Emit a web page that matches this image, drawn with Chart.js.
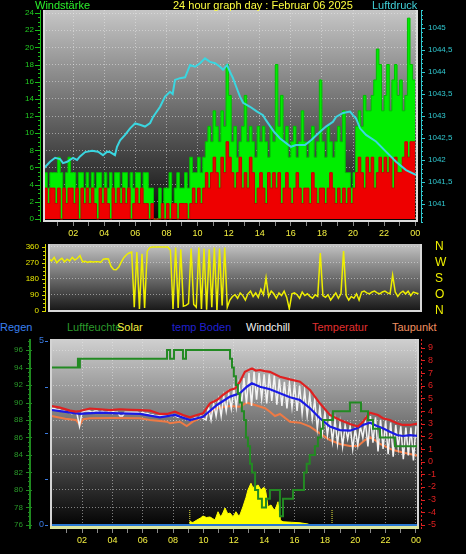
<!DOCTYPE html>
<html>
<head>
<meta charset="utf-8">
<script src="https://cdn.jsdelivr.net/npm/chart.js@4.4.1/dist/chart.umd.min.js"></script>
<style>
  html, body { margin:0; padding:0; background:#000; }
  body { position:relative; width:466px; height:554px; overflow:hidden; font-family:"Liberation Sans", Arial, sans-serif; }
  canvas { position:absolute; left:0; }
  .t { position:absolute; font-size:11px; line-height:12px; white-space:nowrap; }
</style>
</head>
<body>
<canvas id="c1" width="466" height="240" style="top:0px;width:466px;height:240px"></canvas>
<canvas id="c2" width="466" height="80" style="top:240px;width:466px;height:80px"></canvas>
<canvas id="c3" width="466" height="220" style="top:334px;width:466px;height:220px"></canvas>
<div class="t" style="left:35px;top:-1px;color:#2cf02c">Windstärke</div>
<div class="t" style="left:173px;top:-1px;color:#ffff40">24 hour graph day : Februar 06 2025</div>
<div class="t" style="left:372px;top:-1px;color:#40d0d8">Luftdruck</div>
<div class="t" style="left:0px;top:321px;color:#3a80f0">Regen</div>
<div class="t" style="left:67px;top:321px;color:#2c9b2c">Luftfeuchte</div>
<div class="t" style="left:117px;top:321px;color:#f4f040">Solar</div>
<div class="t" style="left:172px;top:321px;color:#2020d0">temp Boden</div>
<div class="t" style="left:246px;top:321px;color:#f2f2f2">Windchill</div>
<div class="t" style="left:312px;top:321px;color:#e03030">Temperatur</div>
<div class="t" style="left:392px;top:321px;color:#f09060">Taupunkt</div>
<script>
// ---------- data ----------
const STEP = 1/6; // 10-minute samples, in hours
const hourTicks = [1,2,3,4,5,6,7,8,9,10,11,12,13,14,15,16,17,18,19,20,21,22,23,24];

const windTicks = [0,2,4,6,8,10,12,14,16,18,20,22,24];
const pressTicks = [1041,1041.5,1042,1042.5,1043,1043.5,1044,1044.5,1045];
const pressLabels = ['1041','1041,5','1042','1042,5','1043','1043,5','1044','1044,5','1045'];
const dirTicks = [0,90,180,270,360];
const dirLetters = ['N','O','S','W','N'];
const humTicks = [76,78,80,82,84,86,88,90,92,94,96];
const rainTicks = [0,1.25,2.5,3.75,5];
const rainLabels = ['0','','','','5'];
const tempTicks = [-5,-4,-3,-2,-1,0,1,2,3,4,5,6,7,8,9];

// gusts (green), 10-minute samples
const windGust = [
  5.4,5.4,3.6,5.4,5.4,5.4,  7.2,5.4,3.6,5.4,7.2,5.4,
  5.4,3.6,5.4,5.4,3.6,5.4,  3.6,5.4,3.6,5.4,5.4,3.6,
  5.4,3.6,5.4,3.6,5.4,5.4,  3.6,5.4,5.4,3.6,5.4,3.6,
  5.4,5.4,3.6,5.4,5.4,3.6,  3.6,0,0,3.6,1.8,3.6,
  3.6,5.4,1.8,3.6,5.4,3.6,  3.6,5.4,3.6,7.2,5.4,5.4,
  7.2,5.4,7.2,9.0,10.8,9.0, 12.6,10.8,9.0,12.6,10.8,18.0,
  14.4,9.0,10.8,7.2,9.0,10.8, 14.4,9.0,10.8,9.0,7.2,10.8,
  9.0,10.8,9.0,7.2,10.8,9.0,  18.0,10.8,14.4,9.0,10.8,7.2,
  9.0,10.8,7.2,9.0,12.6,9.0,  7.2,9.0,10.8,7.2,9.0,16.2,
  9.0,7.2,10.8,9.0,7.2,9.0,   10.8,9.0,12.6,5.4,5.4,3.6,
  5.4,10.8,12.6,10.8,14.4,12.6, 12.6,14.4,16.2,19.8,18.0,12.6,
  14.4,18.0,12.6,16.2,18.0,14.4, 16.2,12.6,14.4,23.4,18.0,16.2
];
// mean wind (red), 10-minute samples
const windAvg = [
  3.6,3.6,1.8,3.6,3.6,1.8,  3.6,0,3.6,1.8,3.6,3.6,
  1.8,3.6,0,3.6,1.8,3.6,    1.8,3.6,1.8,0,3.6,1.8,
  3.6,1.8,0,3.6,1.8,3.6,    1.8,3.6,1.8,3.6,0,1.8,
  3.6,1.8,3.6,1.8,1.8,0,    1.8,0,0,0,1.8,0,
  1.8,0,1.8,1.8,0,1.8,      1.8,1.8,0,1.8,3.6,1.8,
  3.6,1.8,3.6,5.4,3.6,5.4,  7.2,5.4,3.6,7.2,5.4,9.0,
  7.2,5.4,3.6,5.4,7.2,3.6,  5.4,3.6,7.2,5.4,1.8,3.6,
  5.4,3.6,1.8,5.4,3.6,5.4,  3.6,5.4,1.8,3.6,5.4,3.6,
  1.8,3.6,5.4,3.6,1.8,3.6,  3.6,1.8,5.4,3.6,1.8,3.6,
  3.6,1.8,3.6,5.4,3.6,1.8,  3.6,1.8,3.6,1.8,3.6,1.8,
  3.6,5.4,7.2,5.4,3.6,7.2,  5.4,7.2,3.6,5.4,7.2,5.4,
  7.2,5.4,7.2,3.6,7.2,5.4,  5.4,7.2,9.0,7.2,9.0,9.0
];
// pressure [hour, hPa]
const pressure = [
  [0.06,1041.79],[0.51,1041.96],[0.84,1042.05],[1.16,1042.02],[1.35,1041.93],[1.61,1041.96],
  [1.99,1042.05],[2.25,1042.0],[2.44,1042.08],[2.77,1042.18],[3.22,1042.21],[3.6,1042.19],
  [3.92,1042.11],[4.18,1042.19],[4.37,1042.18],[4.69,1042.11],[4.82,1042.3],[5.02,1042.45],
  [5.34,1042.57],[5.66,1042.72],[5.98,1042.83],[6.3,1042.8],[6.62,1042.76],[6.95,1042.84],
  [7.14,1042.98],[7.59,1043.21],[7.91,1043.44],[8.23,1043.55],[8.4,1043.5],[8.55,1043.82],
  [8.87,1043.86],[9.2,1043.88],[9.52,1044.16],[9.84,1044.12],[10.16,1044.2],[10.48,1044.31],
  [10.8,1044.23],[11.13,1044.2],[11.45,1044.12],[11.64,1044.05],[11.9,1044.16],[12.09,1044.0],
  [12.28,1043.86],[12.48,1043.67],[12.73,1043.44],[12.93,1043.3],[13.38,1043.21],[13.83,1043.1],
  [14.21,1043.02],[14.41,1042.9],[14.9,1042.65],[15.31,1042.49],[16.01,1042.3],[16.33,1042.34],
  [16.91,1042.34],[17.3,1042.45],[17.88,1042.64],[18.26,1042.76],[18.71,1042.87],[18.91,1042.98],
  [19.36,1043.07],[19.81,1043.1],[20.0,1043.02],[20.19,1042.95],[20.45,1042.72],[20.84,1042.57],
  [21.48,1042.42],[22.12,1042.19],[22.77,1041.96],[23.41,1041.77],[24.05,1041.66]
];
// wind direction (degrees), 10-minute samples
const windDir = [
  290,280,300,270,285,295,  275,290,280,300,285,295,
  310,275,278,272,276,274,  275,276,272,290,292,291,
  250,232,230,245,275,300,  315,325,330,20,330,10,
  320,15,335,355,358,358,   358,358,358,358,358,340,
  10,355,15,345,25,30,      40,350,35,20,355,10,
  350,5,345,20,355,0,       350,30,355,20,60,80,
  90,70,100,85,60,95,       110,80,100,75,120,90,
  185,80,110,95,70,100,     85,110,75,10,95,100,
  90,70,105,85,95,80,       70,90,80,325,85,75,
  90,60,80,100,70,95,       336,85,60,80,70,95,
  60,105,110,100,95,105,    110,100,95,105,110,100,
  95,200,105,80,100,110,    95,110,85,105,100,95
];
// humidity [hour, %]
const humidity = [
  [0,94],[1.73,95],[1.8,94],[1.86,95],[7.6,96],[7.8,95],[8.06,96],[8.65,95],[8.85,96],
  [11.75,95],[11.88,94],[12.0,93],[12.14,92],[12.27,91],[12.4,90],[12.53,89],[12.67,88],
  [12.8,86],[12.93,85],[13.07,83],[13.2,82],[13.4,80],[13.6,79],[13.85,78],[14.12,79],
  [14.38,80],[15.04,77],[15.24,79],[15.9,80],[16.62,82],[16.8,83],[17.0,84],[17.34,85],
  [17.54,86],[17.74,87],[17.87,88],[18.53,89],[19.65,90],[20.38,89],[20.84,88],[21.17,87],
  [21.63,86],[22.62,85],[24.2,85]
];
// temperature [hour, °C]
const temperature = [
  [0,4.4],[0.55,4.27],[1.21,4.03],[1.6,3.95],[1.86,4.0],[2.52,4.2],[3.18,4.14],[3.84,4.08],
  [4.5,4.14],[5.2,4.1],[5.82,4.08],[6.48,4.03],[7.13,3.77],[7.6,3.77],[8.12,3.95],[8.65,3.69],
  [9.11,3.5],[9.57,3.69],[9.97,3.82],[10.43,4.61],[10.89,4.87],[11.29,5.27],[11.75,5.66],
  [12.1,5.8],[12.4,6.32],[12.73,7.1],[13.19,7.37],[13.45,7.2],[13.72,7.24],[14.05,7.15],
  [14.38,7.1],[15.04,6.71],[15.7,6.5],[16.36,6.32],[17.02,5.66],[17.67,4.61],[18.33,3.69],
  [18.99,3.29],[19.65,2.98],[20.18,2.77],[20.51,3.16],[20.97,3.87],[21.5,3.69],[21.82,3.43],
  [22.28,3.29],[22.75,3.03],[23.14,2.9],[23.6,2.9],[24.2,3.03]
];
// soil temperature [hour, °C]
const soilTemp = [
  [0,4.08],[0.55,4.0],[1.86,3.77],[3.18,3.87],[4.5,3.82],[5.82,3.77],[7.13,3.5],[8.12,3.69],
  [9.11,3.29],[9.97,3.55],[10.89,4.48],[11.75,5.14],[12.4,5.4],[12.86,5.92],[13.19,6.19],
  [13.72,5.92],[14.38,5.72],[15.04,5.4],[15.7,5.09],[16.36,4.87],[17.02,4.22],[17.67,3.43],
  [18.33,2.77],[18.99,2.5],[19.65,2.45],[20.11,2.64],[20.51,2.9],[20.97,3.08],[21.43,2.82],
  [21.82,2.64],[22.28,2.37],[22.75,2.11],[23.14,2.03],[23.6,2.1],[24.2,2.03]
];
// dew point [hour, °C]
const dewPoint = [
  [0,3.61],[0.9,3.4],[1.6,3.3],[1.86,2.9],[2.06,3.35],[2.52,3.43],[4.0,3.45],[5.82,3.43],
  [6.48,3.3],[7.6,3.16],[7.8,3.03],[8.45,3.16],[8.9,2.82],[9.3,3.16],[9.77,3.43],[10.3,3.8],
  [10.89,4.22],[11.75,4.4],[12.4,4.34],[12.86,4.66],[13.4,4.48],[14.06,4.22],[14.38,3.95],
  [14.71,3.61],[15.04,3.77],[15.7,3.16],[16.36,3.08],[17.02,2.77],[17.67,2.24],[18.33,1.71],
  [18.99,1.4],[19.65,1.24],[20.18,1.24],[20.64,1.71],[20.97,1.93],[21.3,1.71],[21.63,1.4],
  [22.5,0.92],[23.3,0.68],[24.2,0.45]
];
// wind chill (°C), 10-minute samples incl. 24:00
const windChill = [
  4.2,4.2,4.1,4.1,4.0,4.0,  3.9,3.9,3.8,3.9,3.8,2.8,
  3.9,4.0,4.0,4.0,3.9,4.0,  4.0,3.9,4.0,3.9,3.9,4.0,
  4.0,3.9,3.9,3.6,3.6,3.9,  3.9,3.9,3.9,3.9,3.9,3.8,
  3.9,3.8,3.8,3.7,3.7,3.6,  3.6,3.6,3.6,3.6,3.6,3.6,
  3.7,3.6,3.5,3.6,3.5,3.4,  3.3,3.3,3.4,3.5,3.4,3.6,
  3.4,3.3,4.3,3.3,4.6,3.6,  4.9,3.6,5.2,4.0,5.4,4.2,
  5.8,4.3,6.1,4.5,6.6,4.6,  7.0,4.4,7.1,4.9,7.0,5.0,
  6.9,4.6,6.9,4.8,6.8,4.5,  6.5,4.4,6.3,4.2,6.2,4.3,
  6.1,4.0,6.0,3.8,5.6,3.6,  5.3,3.4,4.9,2.6,4.3,2.3,
  3.9,2.1,3.5,1.6,3.3,1.4,  3.1,1.2,2.9,1.8,2.8,1.0,
  2.6,1.3,2.8,1.9,3.2,1.2,  3.6,1.5,3.5,0.8,3.3,1.0,
  3.2,0.6,3.1,0.4,2.9,1.1,  2.8,0.2,2.7,0.5,2.7,0.1,
  2.8
];
// solar radiation [hour, W/m²]
const solar = [
  [9.05,0],[9.11,14],[9.3,10],[9.57,20],[9.8,28],[9.97,36],[10.2,30],[10.43,32],[10.6,26],
  [10.76,20],[10.96,53],[11.1,35],[11.22,40],[11.42,68],[11.6,45],[11.75,48],[11.95,33],
  [12.14,53],[12.3,38],[12.4,40],[12.6,73],[12.8,110],[12.93,140],[13.13,167],[13.25,150],
  [13.4,153],[13.6,160],[13.79,140],[13.95,150],[14.05,147],[14.12,128],[14.25,73],[14.45,80],
  [14.6,65],[14.72,60],[14.91,93],[15.0,40],[15.04,20],[15.24,13],[15.8,11],[16.36,9],
  [16.89,4],[17.0,0]
];
const rain = [[0,0],[24.2,0]];
const sunMarks = [9.1, 18.47];   // sunrise / sunset
const sunMarkTop = 60;

// ---------- helpers ----------
function stepSeries(arr){ const p = arr.map((v,i)=>({x:i*STEP,y:v})); p.push({x:arr.length*STEP,y:arr[arr.length-1]}); return p; }
function sampleSeries(arr){ return arr.map((v,i)=>({x:i*STEP,y:v})); }
function pairs(a){ return a.map(p=>({x:p[0],y:p[1]})); }
function fixedWidth(w){ return s => { s.width = w; s.paddingTop = 0; s.paddingBottom = 0; }; }
function fixedHeight(h){ return s => { s.height = h; }; }
function setTicks(vals){ return s => { s.ticks = vals.map(v=>({value:v})); }; }
const GRID = 'rgba(235,235,235,0.5)';
const FONT = '"Liberation Sans", Arial, sans-serif';
Chart.defaults.font.family = FONT;

function xAxis(min,max,height){
  return { type:'linear', min:min, max:max,
    afterBuildTicks:setTicks(hourTicks), afterFit:fixedHeight(height),
    ticks:{ autoSkip:false, maxRotation:0, minRotation:0, padding:2, color:'#f4f040', font:{size:9},
      callback:v => (v%2===0 ? String(v%24).padStart(2,'0') : '') },
    grid:{ color:c => (c.tick && c.tick.value%2===0) ? GRID : 'rgba(0,0,0,0)', borderDash:[1,2],
      tickColor:'#8a8a8a', tickLength:4, tickBorderDash:[], drawTicks:true },
    border:{ display:false, dash:[1,2] } };
}

const decoPlugin = {
  id:'deco',
  beforeDraw(chart, args, o){
    if(!o || !o.bg) return;
    const a = chart.chartArea, ctx = chart.ctx;
    const g = ctx.createLinearGradient(0,a.top,0,a.bottom);
    o.bg.forEach(s=>g.addColorStop(s[0],s[1]));
    ctx.save(); ctx.fillStyle=g; ctx.fillRect(a.left,a.top,a.right-a.left,a.bottom-a.top); ctx.restore();
  },
  afterDraw(chart, args, o){
    if(!o || !o.frame) return;
    const a = chart.chartArea, ctx = chart.ctx;
    ctx.save();
    ctx.lineWidth = 2; ctx.strokeStyle = o.frame;
    ctx.beginPath(); ctx.moveTo(a.left+1, a.top); ctx.lineTo(a.left+1, a.bottom); ctx.stroke();
    if (o.frameRight){ ctx.beginPath(); ctx.moveTo(a.right-1,a.top); ctx.lineTo(a.right-1,a.bottom); ctx.stroke(); }
    const bw = o.bottomWidth || 2;
    ctx.lineWidth = bw; ctx.strokeStyle = o.bottomColor || o.frame;
    ctx.beginPath(); ctx.moveTo(a.left, a.bottom-bw/2); ctx.lineTo(a.right, a.bottom-bw/2); ctx.stroke();
    (o.axes||[]).forEach(ax=>{
      const s = chart.scales[ax.id]; if(!s) return;
      const dir = ax.side==='left' ? -1 : 1;
      ctx.strokeStyle = ax.color;
      if (ax.width){
        ctx.lineWidth = ax.width; ctx.setLineDash(ax.dash ? [ax.dash[0],ax.dash[1]] : []);
        const xx = ax.x + (ax.width%2 ? 0.5 : 0);
        ctx.beginPath(); ctx.moveTo(xx, a.top); ctx.lineTo(xx, a.bottom); ctx.stroke(); ctx.setLineDash([]);
      }
      ctx.lineWidth = 1;
      const tick = (v,len,inLen)=>{ const y=Math.round(s.getPixelForValue(v))+0.5; ctx.beginPath(); ctx.moveTo(ax.x - dir*(inLen||0), y); ctx.lineTo(ax.x + dir*len, y); ctx.stroke(); };
      if (ax.minor){ const n0=Math.ceil(s.min/ax.minor), n1=Math.floor(s.max/ax.minor); for(let n=n0;n<=n1;n++) tick(n*ax.minor, ax.minorLen||2, 0); }
      s.ticks.forEach(t=>tick(t.value, ax.majorLen||4, ax.inLen||0));
    });
    ctx.restore();
  }
};
Chart.register(decoPlugin);

const common = { responsive:false, animation:false, events:[], elements:{ point:{radius:0} } };

// ---------- chart 1: wind + pressure ----------
new Chart(document.getElementById('c1'), {
  type:'line',
  data:{ datasets:[
    { label:'Luftdruck', data:pairs(pressure), yAxisID:'yP', borderColor:'#3ad6e0', borderWidth:2, tension:0, order:0 },
    { label:'Wind', data:stepSeries(windAvg), yAxisID:'y', stepped:true, fill:'origin', backgroundColor:'#ee0000', borderColor:'#c80000', borderWidth:1, order:1 },
    { label:'Böen', data:stepSeries(windGust), yAxisID:'y', stepped:true, fill:'origin', backgroundColor:'#00ee00', borderColor:'#00c000', borderWidth:1, order:2 }
  ]},
  options:Object.assign({}, common, {
    layout:{ padding:{ top:10, left:0, right:0, bottom:0 } },
    plugins:{ legend:{display:false}, tooltip:{enabled:false},
      deco:{ bg:[[0,'#c6c6c6'],[1,'#060606']], frame:'#dcdcdc', frameRight:true,
        axes:[ {id:'y', x:40, side:'left', color:'#18c018', width:1, minor:0.5, majorLen:5, minorLen:2},
               {id:'yP', x:421, side:'right', color:'#30c8d0', width:1, minor:0.1, majorLen:4, minorLen:2} ] } },
    scales:{
      x: xAxis(0.06, 24.18, 18),
      y: { type:'linear', position:'left', min:-0.35, max:24.35, afterBuildTicks:setTicks(windTicks), afterFit:fixedWidth(43),
           ticks:{ autoSkip:false, color:'#22cc22', font:{size:8}, padding:9 }, grid:{ color:GRID, borderDash:[1,2], drawTicks:false }, border:{ display:false, dash:[1,2] } },
      yP: { type:'linear', position:'right', min:1040.591, max:1045.409, afterBuildTicks:setTicks(pressTicks), afterFit:fixedWidth(48),
           ticks:{ autoSkip:false, color:'#30c8d0', font:{size:8}, padding:10, callback:(v,i)=>pressLabels[i] }, grid:{ drawOnChartArea:false, drawTicks:false }, border:{ display:false } }
    }
  })
});

// ---------- chart 2: wind direction ----------
new Chart(document.getElementById('c2'), {
  type:'line',
  data:{ datasets:[
    { label:'Windrichtung', data:sampleSeries(windDir), yAxisID:'y', borderColor:'#eeee00', borderWidth:1.5, tension:0 }
  ]},
  options:Object.assign({}, common, {
    layout:{ padding:{ top:4, bottom:8, left:0, right:0 } },
    plugins:{ legend:{display:false}, tooltip:{enabled:false},
      deco:{ bg:[[0,'#c4c4c4'],[1,'#141414']], frame:'#d8d8d8', frameRight:true,
        axes:[ {id:'y', x:45, side:'left', color:'#d8d800', width:1, minor:22.5, majorLen:3, minorLen:2} ] } },
    scales:{
      x: { type:'linear', display:false, min:-0.065, max:24.06 },
      y: { type:'linear', position:'left', min:-7.3, max:375.2, afterBuildTicks:setTicks(dirTicks), afterFit:fixedWidth(48),
           ticks:{ autoSkip:false, color:'#e8e800', font:{size:8}, padding:9 }, grid:{ color:GRID, borderDash:[1,2], drawTicks:false }, border:{ display:false, dash:[1,2] } },
      yL: { type:'linear', position:'right', min:-7.3, max:375.2, afterBuildTicks:setTicks(dirTicks), afterFit:fixedWidth(44),
           ticks:{ autoSkip:false, color:'#f0f000', font:{size:12}, padding:13, callback:(v,i)=>dirLetters[i] }, grid:{ drawOnChartArea:false, drawTicks:false }, border:{ display:false } }
    }
  })
});

// ---------- chart 3: temperatures, humidity, solar, rain ----------
const sunSets = sunMarks.map(h => ({ label:'sun', data:[{x:h,y:0},{x:h,y:sunMarkTop}], yAxisID:'yS', borderColor:'#f0f040', borderWidth:1, borderDash:[1,1], order:9 }));
new Chart(document.getElementById('c3'), {
  type:'line',
  data:{ datasets:[
    { label:'Regen', data:pairs(rain), yAxisID:'yR', borderColor:'#2a78d0', borderWidth:2, order:1 },
    { label:'Luftfeuchte', data:pairs(humidity), yAxisID:'yH', stepped:true, borderColor:'#238a23', borderWidth:2, order:2 },
    { label:'Temperatur', data:pairs(temperature), yAxisID:'yT', borderColor:'#e02020', borderWidth:2.2, tension:0, order:3 },
    { label:'temp Boden', data:pairs(soilTemp), yAxisID:'yT', borderColor:'#1a1ae6', borderWidth:2.2, tension:0, order:4 },
    { label:'Windchill', data:sampleSeries(windChill), yAxisID:'yT', borderColor:'#f4f4f4', borderWidth:1.5, tension:0, order:5 },
    { label:'Taupunkt', data:pairs(dewPoint), yAxisID:'yT', borderColor:'#ee7a45', borderWidth:2, tension:0, order:6 },
    { label:'Solar', data:pairs(solar), yAxisID:'yS', fill:'origin', backgroundColor:'#ffff00', borderColor:'#ffff00', borderWidth:1, tension:0, order:7 }
  ].concat(sunSets) },
  options:Object.assign({}, common, {
    layout:{ padding:{ top:5, left:0, right:0, bottom:0 } },
    plugins:{ legend:{display:false}, tooltip:{enabled:false},
      deco:{ bg:[[0,'#d0d0d0'],[1,'#000000']], frame:'#d4d4d4', frameRight:true, bottomColor:'#dce6a0', bottomWidth:3,
        axes:[ {id:'yH', x:30, side:'left', color:'#1f8a1f', width:2, minor:0.5, majorLen:4, minorLen:2, inLen:2},
               {id:'yR', x:48, side:'left', color:'#3a7ae0', width:0, majorLen:3},
               {id:'yT', x:421, side:'right', color:'#e02020', width:1, dash:[2,2], majorLen:4} ] } },
    scales:{
      x: xAxis(-0.11, 24.2, 25),
      yH: { type:'linear', position:'left', weight:2, min:75.54, max:97.26, afterBuildTicks:setTicks(humTicks), afterFit:fixedWidth(32),
            ticks:{ autoSkip:false, color:'#2a9a2a', font:{size:8}, padding:9 }, grid:{ color:GRID, borderDash:[1,2], drawTicks:false }, border:{ display:false, dash:[1,2] } },
      yR: { type:'linear', position:'left', weight:1, min:-0.109, max:5.054, afterBuildTicks:setTicks(rainTicks), afterFit:fixedWidth(18),
            ticks:{ autoSkip:false, color:'#3a7ae0', font:{size:9}, padding:6, callback:(v,i)=>rainLabels[i] }, grid:{ drawOnChartArea:false, drawTicks:false }, border:{ display:false } },
      yT: { type:'linear', position:'right', min:-5.316, max:9.69, afterBuildTicks:setTicks(tempTicks), afterFit:fixedWidth(47),
            ticks:{ autoSkip:false, color:'#e02020', font:{size:9}, padding:9 }, grid:{ drawOnChartArea:false, drawTicks:false }, border:{ display:false } },
      yS: { type:'linear', display:false, min:-16, max:744 }
    }
  })
});
</script>
</body>
</html>
